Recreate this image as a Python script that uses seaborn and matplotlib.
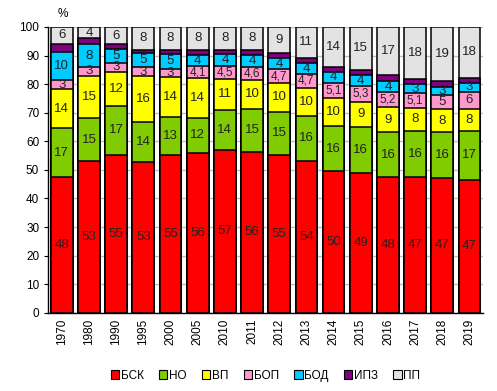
import numpy as np
import pandas as pd
import seaborn as sns
from matplotlib import pyplot as plt
from matplotlib.patches import Patch

years = ["1970", "1980", "1990", "1995", "2000", "2005", "2010", "2011",
         "2012", "2013", "2014", "2015", "2016", "2017", "2018", "2019"]
bsk = [48, 53, 55, 53, 55, 56, 57, 56, 55, 54, 50, 49, 48, 47, 47, 47]
no = [17, 15, 17, 14, 13, 12, 14, 15, 15, 16, 16, 16, 16, 16, 16, 17]
vp = [14, 15, 12, 16, 14, 14, 11, 10, 10, 10, 10, 9, 9, 8, 8, 8]
bop = [3, 3, 3, 3, 3, 4.1, 4.5, 4.6, 4.7, 4.7, 5.1, 5.3, 5.2, 5.1, 5, 6]
bod = [10, 8, 5, 5, 5, 4, 4, 4, 4, 4, 4, 4, 4, 3, 3, 3]
ipz = [2.8, 2, 1.5, 1.2, 1.5, 1.8, 1.6, 1.8, 1.8, 1.8, 1.8, 1.8, 2.1, 1.8, 1.8, 1.8]  # no labels, read from heights
pp = [6, 4, 6, 8, 8, 8, 8, 8, 9, 11, 14, 15, 17, 18, 19, 18]

names = ["БСК", "НО", "ВП", "БОП", "БОД", "ИПЗ", "ПП"]
colors = ["#FF0000", "#80CC00", "#FFFF00", "#FF99CC", "#00CCFF", "#800080", "#E3E3E3"]
labeled = [True, True, True, True, True, False, True]

df = pd.DataFrame(dict(zip(names, [bsk, no, vp, bop, bod, ipz, pp])), index=years)
pct = df.div(df.sum(axis=1), axis=0) * 100   # 100% stacked, like the original
cum = pct.cumsum(axis=1)

plt.rcParams['font.family'] = ['Liberation Sans', 'DejaVu Sans']
fig, ax = plt.subplots(figsize=(4.97, 3.91), dpi=100)
fig.subplots_adjust(left=0.097, right=0.972, top=0.931, bottom=0.2)

# draw from the top layer down, each bar from zero
for i in range(len(names) - 1, -1, -1):
    d = pd.DataFrame({"year": years, "h": cum[names[i]].values})
    sns.barplot(data=d, x="year", y="h", color=colors[i], saturation=1,
                width=0.8, edgecolor="black", linewidth=1.1, ax=ax, zorder=2)

for j, y in enumerate(years):
    for i, n in enumerate(names):
        if not labeled[i]:
            continue
        v = df.loc[y, n]
        mid = cum.loc[y, n] - pct.loc[y, n] / 2
        s = ("%g" % v).replace(".", ",")
        fs = 8.5 if "," in s else 9.5
        ax.text(j, mid, s, ha="center", va="center", fontsize=fs, color="#222222", zorder=3)

ax.set_ylim(0, 100)
ax.set_xlim(-0.5, len(years) - 0.5)
ax.set_yticks(np.arange(0, 101, 10))
ax.yaxis.grid(True, color="#BDBDBD", linewidth=1, zorder=0)
ax.set_axisbelow(True)
ax.set_xlabel("")
ax.set_ylabel("")
for s in ["top", "right"]:
    ax.spines[s].set_visible(False)
for s in ["left", "bottom"]:
    ax.spines[s].set_color("black")
    ax.spines[s].set_linewidth(1)
ax.tick_params(axis="y", labelsize=8.5, length=3, color="black")
ax.tick_params(axis="x", labelsize=8.5, length=0, rotation=90, pad=4)
ax.text(0.05, 102.5, "%", ha="center", va="bottom", fontsize=8.5)

handles = [Patch(facecolor=c, edgecolor="black", linewidth=0.8) for c in colors]
ax.legend(handles, names, loc="center", bbox_to_anchor=(0.5, -0.22), ncol=7,
          frameon=False, fontsize=8.5, handlelength=0.7, handleheight=0.7,
          handletextpad=0.15, columnspacing=1.3)

fig.savefig("out.png", dpi=100)
